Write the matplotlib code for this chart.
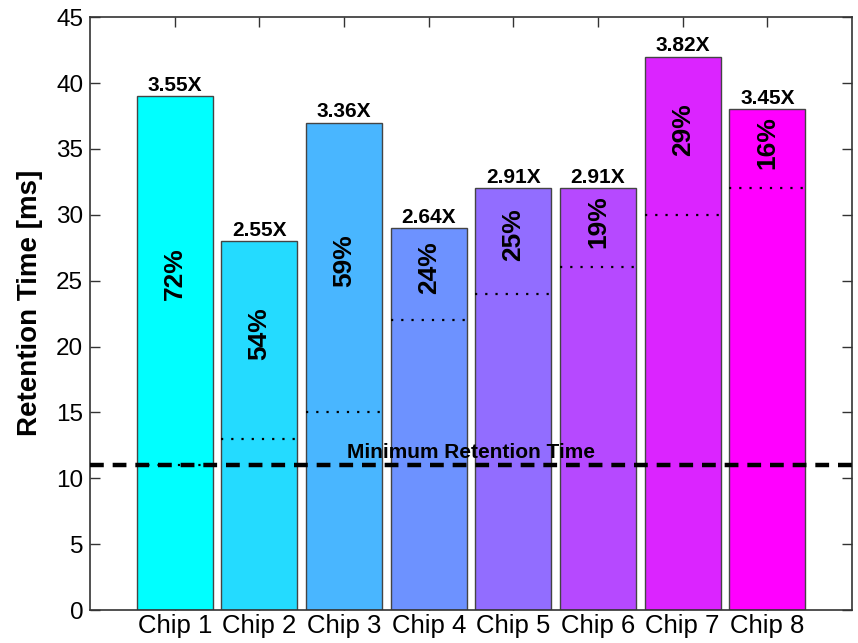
import matplotlib
matplotlib.use("Agg")
import matplotlib.pyplot as plt
import numpy as np

plt.rcParams['font.family'] = ['Liberation Sans', 'DejaVu Sans']

# Retention data per chip (ms)
chips = ["Chip 1", "Chip 2", "Chip 3", "Chip 4", "Chip 5", "Chip 6", "Chip 7", "Chip 8"]
retention = [39, 28, 37, 29, 32, 32, 42, 38]          # max retention time
baseline = [11, 13, 15, 22, 24, 26, 30, 32]           # dotted reference level per chip
ratio_labels = ["3.55X", "2.55X", "3.36X", "2.64X", "2.91X", "2.91X", "3.82X", "3.45X"]
pct_labels = ["72%", "54%", "59%", "24%", "25%", "19%", "29%", "16%"]
min_retention = 11
bar_colors = ["#00FFFF", "#24DBFF", "#49B6FF", "#6D92FF",
              "#926DFF", "#B649FF", "#DB24FF", "#FF00FF"]
yticks = [0, 5, 10, 15, 20, 25, 30, 35, 40, 45]

fig = plt.figure(figsize=(8.58, 6.43), dpi=100)
ax = fig.add_axes([0.105, 0.0513, 0.888, 0.922])

x = np.arange(1, len(chips) + 1)
width = 0.9
ax.bar(x, retention, width=width, color=bar_colors, edgecolor="#444444",
       linewidth=1.0, zorder=2)

# per-chip dotted level
for xi, b in zip(x, baseline):
    ax.plot([xi - width / 2, xi + width / 2], [b, b], color="black",
            linestyle=(0, (1.0, 3.6)), linewidth=1.6, zorder=3)

# minimum retention line
ax.axhline(min_retention, color="black", linewidth=3.2, dashes=(3.1, 2.0), zorder=4)
ax.text(4.5, min_retention + 0.25, "Minimum Retention Time", ha="center",
        va="bottom", fontsize=15, fontweight="bold", zorder=5)

# value annotations
for xi, r, b, rl, pl in zip(x, retention, baseline, ratio_labels, pct_labels):
    ax.text(xi, r + 0.1, rl, ha="center", va="bottom", fontsize=15,
            fontweight="bold", zorder=5)
    ax.text(xi, (r + b) / 2 + 0.5, pl, ha="center", va="center", rotation=90,
            fontsize=19, fontweight="bold", zorder=5)

ax.set_xlim(0, 9)
ax.set_ylim(0, 45)
ax.set_xticks(x)
ax.set_xticklabels(chips, fontsize=18.5)
ax.set_yticks(yticks)
ax.set_yticklabels([str(v) for v in yticks], fontsize=17.5)
ax.tick_params(direction="in", length=7, width=1, top=True, right=True,
               colors="#333333", labelcolor="black")
ax.tick_params(axis="x", pad=3)
ax.tick_params(axis="y", pad=5)
for s in ax.spines.values():
    s.set_color("#333333")
    s.set_linewidth(1.2)
ax.set_ylabel("Retention Time [ms]", fontsize=20, fontweight="bold")
ax.yaxis.set_label_coords(-0.062, 0.518)

fig.savefig("out.png", dpi=100)
